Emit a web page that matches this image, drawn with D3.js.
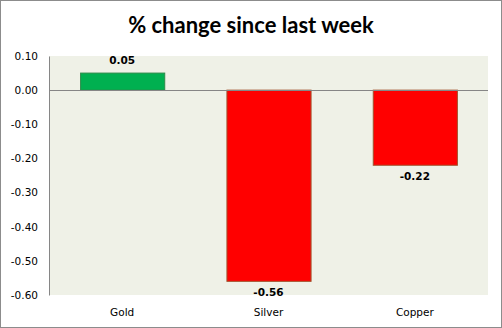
<!DOCTYPE html>
<html>
<head>
<meta charset="utf-8">
<script src="https://cdn.jsdelivr.net/npm/d3@7"></script>
<style>
  html, body { margin: 0; padding: 0; background: #fff; }
  svg { display: block; }
</style>
</head>
<body>
<svg id="chart" width="502" height="328"></svg>
<script>
// Weekly metal price moves
const categories = ["Gold", "Silver", "Copper"];
const changes = [0.05, -0.56, -0.22];
const tickValues = [0.10, 0.00, -0.10, -0.20, -0.30, -0.40, -0.50, -0.60];
const title = "% change since last week";

const W = 502, H = 328;
const plot = { left: 49, right: 488, top: 56, bottom: 295 };

const svg = d3.select("#chart");

// plain hyphen for negatives
const fmt = d3.formatLocale({ decimal: ".", thousands: ",", grouping: [3], currency: ["", ""], minus: "-" }).format(".2f");

// outer frame
svg.append("rect")
  .attr("x", 0.5).attr("y", 0.5)
  .attr("width", W - 1).attr("height", H - 1)
  .attr("fill", "#fff").attr("stroke", "#8c8c8c");

svg.append("text")
  .attr("x", W / 2).attr("y", 33)
  .attr("text-anchor", "middle")
  .attr("font-family", "Lato, 'Open Sans', sans-serif")
  .attr("font-weight", "bold")
  .attr("font-size", 22)
  .attr("fill", "#000")
  .text(title);

const x = d3.scaleBand()
  .domain(categories)
  .range([plot.left, plot.right])
  .paddingInner(0.425)
  .paddingOuter(0.2125);

const y = d3.scaleLinear()
  .domain([-0.6, 0.1])
  .range([plot.bottom, plot.top]);

// plot background
svg.append("rect")
  .attr("x", plot.left).attr("y", plot.top)
  .attr("width", plot.right - plot.left)
  .attr("height", plot.bottom - plot.top)
  .attr("fill", "#eff1e7");

// y axis
const yAxis = d3.axisLeft(y)
  .tickValues(tickValues)
  .tickFormat(fmt)
  .tickSize(0)
  .tickPadding(11);

const gy = svg.append("g")
  .attr("transform", `translate(${plot.left},0)`)
  .call(yAxis);
gy.select(".domain").attr("stroke", "#868686");
gy.selectAll("text")
  .attr("font-family", "'DejaVu Sans', Verdana, sans-serif")
  .attr("font-size", 10.5)
  .attr("fill", "#000");

// bars
svg.append("g").selectAll("rect")
  .data(categories)
  .join("rect")
  .attr("x", d => x(d) + 0.5)
  .attr("width", x.bandwidth())
  .attr("y", (d, i) => y(Math.max(0, changes[i])))
  .attr("height", (d, i) => Math.abs(y(changes[i]) - y(0)))
  .attr("fill", (d, i) => changes[i] >= 0 ? "#00b050" : "#ff0000")
  .attr("stroke", (d, i) => changes[i] >= 0 ? "#2e8b4a" : "#a0522d")
  .attr("stroke-width", 1);

// zero line
svg.append("line")
  .attr("x1", plot.left).attr("x2", plot.right)
  .attr("y1", Math.round(y(0)) + 0.5).attr("y2", Math.round(y(0)) + 0.5)
  .attr("stroke", "#868686");

// value labels
svg.append("g").selectAll("text")
  .data(categories)
  .join("text")
  .attr("x", d => x(d) + x.bandwidth() / 2)
  .attr("y", (d, i) => changes[i] >= 0 ? y(changes[i]) - 9 : y(changes[i]) + 15)
  .attr("text-anchor", "middle")
  .attr("font-family", "'DejaVu Sans', Verdana, sans-serif")
  .attr("font-weight", "bold")
  .attr("font-size", 10.5)
  .attr("fill", "#000")
  .text((d, i) => fmt(changes[i]));

// category labels
svg.append("g").selectAll("text")
  .data(categories)
  .join("text")
  .attr("x", d => x(d) + x.bandwidth() / 2)
  .attr("y", 316)
  .attr("text-anchor", "middle")
  .attr("font-family", "'DejaVu Sans', Verdana, sans-serif")
  .attr("font-size", 10.5)
  .attr("fill", "#000")
  .text(d => d);
</script>
</body>
</html>
